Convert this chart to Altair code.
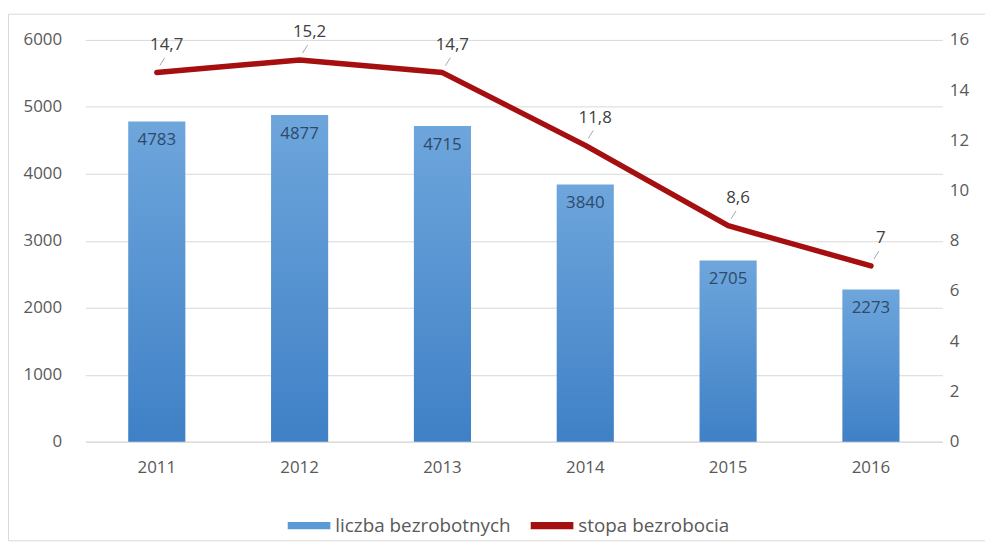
import altair as alt
import pandas as pd

lata = ["2011", "2012", "2013", "2014", "2015", "2016"]
liczba_bezrobotnych = [4783, 4877, 4715, 3840, 2705, 2273]
stopa_bezrobocia = [14.7, 15.2, 14.7, 11.8, 8.6, 7.0]
stopa_etykiety = ["14,7", "15,2", "14,7", "11,8", "8,6", "7"]
serie = ["liczba bezrobotnych", "stopa bezrobocia"]
kolory = ["#5b9bd5", "#a50f0f"]

df = pd.DataFrame({
    "rok": lata,
    "liczba": liczba_bezrobotnych,
    "stopa": stopa_bezrobocia,
    "etykieta": stopa_etykiety,
})

FONT = "Open Sans"
W, H = 864, 405

xenc = alt.X(
    "rok:N",
    title=None,
    scale=alt.Scale(paddingInner=0.6, paddingOuter=0.3),
    axis=alt.Axis(labelAngle=0, ticks=False, domain=True, domainColor="#d9d9d9",
                  labelPadding=18, labelFontSize=17, labelColor="#595959", labelFont=FONT),
)

ylewa = alt.Scale(domain=[0, 6000])
yprawa = alt.Scale(domain=[0, 16])

color_enc_bar = alt.Color(
    "seria:N",
    scale=alt.Scale(domain=serie, range=kolory),
    legend=alt.Legend(
        title=None, orient="none", direction="horizontal", legendX=204, legendY=468,
        symbolType="M-1,-0.17H1V0.17H-1Z", symbolSize=1849, symbolStrokeWidth=0,
        labelFontSize=19, labelColor="#595959", labelFont=FONT, labelOffset=5,
        labelLimit=400, columnPadding=20, symbolOpacity=1,
    ),
)

gradient = alt.LinearGradient(
    gradient="linear",
    stops=[alt.GradientStop(color="#6ea6dc", offset=0), alt.GradientStop(color="#3f80c6", offset=1)],
    x1=0, x2=0, y1=0, y2=1,
)

bars = alt.Chart(df).transform_calculate(seria="'liczba bezrobotnych'").mark_bar(fill=gradient).encode(
    x=xenc,
    y=alt.Y("liczba:Q", scale=ylewa, title=None,
            axis=alt.Axis(values=[0, 1000, 2000, 3000, 4000, 5000, 6000], format="d", ticks=False,
                          domain=False, gridColor="#d9d9d9", labelPadding=24, labelFontSize=17,
                          labelColor="#595959", labelFont=FONT)),
    color=color_enc_bar,
)

bar_text = alt.Chart(df).mark_text(dy=19, fontSize=17, font=FONT, color="#2e4a6b", baseline="middle").encode(
    x=xenc,
    y=alt.Y("liczba:Q", scale=ylewa, axis=None),
    text="liczba:Q",
)

line = alt.Chart(df).transform_calculate(seria="'stopa bezrobocia'").mark_line(
    strokeWidth=5.5, strokeCap="round", strokeJoin="round"
).encode(
    x=xenc,
    y=alt.Y("stopa:Q", scale=yprawa, title=None,
            axis=alt.Axis(orient="right", values=[0, 2, 4, 6, 8, 10, 12, 14, 16], ticks=False,
                          domain=False, grid=False, labelPadding=7, labelFontSize=17,
                          labelColor="#595959", labelFont=FONT)),
    color=alt.Color("seria:N", scale=alt.Scale(domain=serie, range=kolory)),
)

leaders = alt.Chart(df).mark_rule(color="#a6a6a6", strokeWidth=1, xOffset=3, yOffset=-7,
                                  x2Offset=8, y2Offset=-15).encode(
    x=xenc,
    x2="rok:N",
    y=alt.Y("stopa:Q", scale=yprawa, axis=None),
    y2="stopa:Q",
)

line_text = alt.Chart(df).mark_text(dx=10, dy=-28, fontSize=17, font=FONT, color="#404040",
                                    baseline="middle").encode(
    x=xenc,
    y=alt.Y("stopa:Q", scale=yprawa, axis=None),
    text="etykieta:N",
)

ramka = alt.Chart(pd.DataFrame({"a": [0]})).mark_rect(fill="transparent", stroke="#d9d9d9", strokeWidth=1).encode(
    x=alt.value(-77.5), x2=alt.value(W + 60), y=alt.value(-26), y2=alt.value(505),
)

chart = alt.layer(ramka, bars, bar_text, line, leaders, line_text).resolve_scale(
    y="independent", color="shared"
).properties(
    width=W, height=H,
    autosize=alt.AutoSizeParams(type="none"),
    padding={"left": 78, "top": 30, "right": 43, "bottom": 102},
).configure(background="white").configure_view(stroke="transparent", strokeWidth=0)

chart.save("out.html", embed_options={"renderer": "svg", "actions": False})
